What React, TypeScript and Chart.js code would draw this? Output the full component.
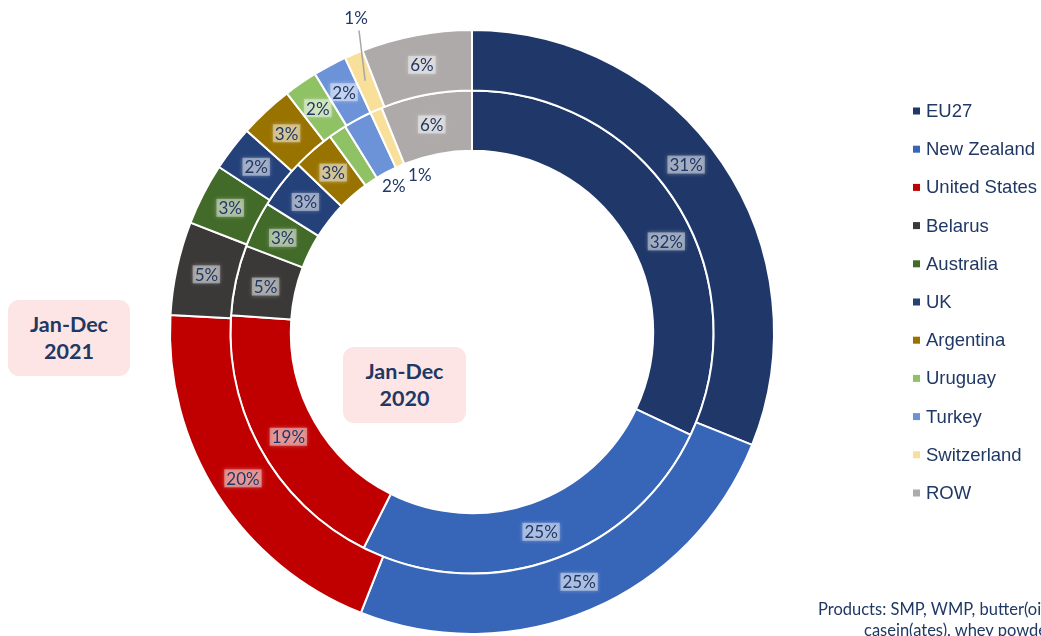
import React, { useEffect, useRef } from "react";
import { Chart, registerables } from "chart.js";
Chart.register(...registerables);

const countries = ["EU27", "New Zealand", "United States", "Belarus", "Australia", "UK", "Argentina", "Uruguay", "Turkey", "Switzerland", "ROW"];
const share2021 = [31.1, 24.9, 19.9, 5.0, 3.3, 2.4, 2.9, 1.8, 1.8, 1.0, 5.9];
const share2020 = [32.0, 25.4, 18.7, 4.7, 3.1, 3.3, 2.8, 1.2, 1.9, 0.8, 6.1];
const sliceColors = ["#1F3869", "#3765B8", "#C00000", "#3B3838", "#426B29", "#24417A", "#997300", "#8FC165", "#6C93D8", "#F8DF9A", "#AEAAAA"];
const periodLabels = ["Jan-Dec 2021", "Jan-Dec 2020"];

const TEXT = "#203864";

// label placement: "in" (boxed, mid-ring), "hole" (inside the hole), "leader" (outside with line), "none"
const labelMode2021 = ["in", "in", "in", "in", "in", "in", "in", "in", "in", "leader", "in"];
const labelMode2020 = ["in", "in", "in", "in", "in", "in", "in", "none", "hole", "hole", "in"];
// small angular nudges (degrees) for label placement
const labelNudge2021 = [-4, 0, 0, 0, 0, 0, 0, 0, 0, 2.5, 0];
const labelNudge2020 = [7.4, 0, 0, 0, 0, 0, 0, 0, 0, 5, 0];

const labelPlugin = {
  id: "sliceLabels",
  afterDatasetsDraw(chart: any) {
    const ctx = chart.ctx;
    const modes = [labelMode2021, labelMode2020];
    const nudges = [labelNudge2021, labelNudge2020];
    ctx.save();
    ctx.font = "17px Lato";
    ctx.textAlign = "center";
    ctx.textBaseline = "middle";
    chart.data.datasets.forEach((ds: any, di: number) => {
      const meta = chart.getDatasetMeta(di);
      meta.data.forEach((arc: any, i: number) => {
        const mode = modes[di][i];
        if (mode === "none") return;
        const p = arc.getProps(["x", "y", "startAngle", "endAngle", "innerRadius", "outerRadius"], true);
        const mid = (p.startAngle + p.endAngle) / 2;
        const a = mid + (nudges[di][i] * Math.PI) / 180;
        const text = Math.round(ds.data[i]) + "%";
        if (mode === "in") {
          const r = (p.innerRadius + p.outerRadius) / 2 + (di === 1 && i === 0 ? 3 : 0);
          const x = p.x + Math.cos(a) * r;
          const y = p.y + Math.sin(a) * r;
          const w = ctx.measureText(text).width;
          ctx.save();
          ctx.fillStyle = "rgba(255,255,255,0.42)";
          ctx.shadowColor = "rgba(255,255,255,0.7)";
          ctx.shadowBlur = 4;
          ctx.fillRect(x - w / 2 - 2, y - 9, w + 4, 18);
          ctx.restore();
          ctx.fillStyle = TEXT;
          ctx.fillText(text, x, y + 1);
        } else if (mode === "hole") {
          const r = p.innerRadius - 16;
          const x = p.x + Math.cos(a) * r;
          const y = p.y + Math.sin(a) * r;
          ctx.fillStyle = TEXT;
          ctx.fillText(text, x, y);
        } else if (mode === "leader") {
          const r1 = p.outerRadius - 29;
          const r2 = p.outerRadius + 20;
          ctx.strokeStyle = "#A6A6A6";
          ctx.lineWidth = 1.5;
          ctx.beginPath();
          ctx.moveTo(p.x + Math.cos(mid) * r1, p.y + Math.sin(mid) * r1);
          ctx.lineTo(p.x + Math.cos(a) * r2, p.y + Math.sin(a) * r2);
          ctx.stroke();
          const r3 = p.outerRadius + 34;
          ctx.fillStyle = TEXT;
          ctx.fillText(text, p.x + Math.cos(a) * r3 + 2, p.y + Math.sin(a) * r3 + 1);
        }
      });
    });
    ctx.restore();
  },
};

const legendPlugin = {
  id: "sideLegend",
  afterDraw(chart: any) {
    const ctx = chart.ctx;
    const labels = chart.data.labels as string[];
    ctx.save();
    ctx.font = "18.5px 'Liberation Sans', Arial";
    ctx.textBaseline = "middle";
    ctx.textAlign = "left";
    labels.forEach((lab, i) => {
      const y = 111 + i * 38.2;
      ctx.fillStyle = sliceColors[i];
      ctx.fillRect(913, y - 3.5, 7, 7);
      ctx.fillStyle = TEXT;
      ctx.fillText(lab, 926, y + 1);
    });
    ctx.restore();
  },
};

export default function App() {
  const ref = useRef<HTMLCanvasElement>(null);
  useEffect(() => {
    if (!ref.current) return;
    const chart = new Chart(ref.current, {
      type: "doughnut",
      data: {
        labels: countries,
        datasets: [
          { label: periodLabels[0], data: share2021, backgroundColor: sliceColors, borderColor: "#FFFFFF", borderWidth: 2 },
          { label: periodLabels[1], data: share2020, backgroundColor: sliceColors, borderColor: "#FFFFFF", borderWidth: 2 },
        ],
      },
      options: {
        responsive: false,
        animation: false,
        cutout: "60%",
        layout: { padding: { left: 169, right: 266, top: 29, bottom: 1 } },
        plugins: { legend: { display: false }, tooltip: { enabled: false } },
      },
      plugins: [labelPlugin, legendPlugin],
    });
    return () => chart.destroy();
  }, []);

  const boxStyle: React.CSSProperties = {
    position: "absolute",
    background: "#FDE5E5",
    borderRadius: 11,
    color: TEXT,
    fontFamily: "Lato",
    fontWeight: 700,
    fontSize: 21.5,
    lineHeight: "27px",
    textAlign: "center",
    display: "flex",
    alignItems: "center",
    justifyContent: "center",
  };

  const footStyle: React.CSSProperties = {
    position: "absolute",
    color: TEXT,
    fontFamily: "Lato",
    fontSize: 16.5,
    lineHeight: "20px",
    whiteSpace: "nowrap",
  };

  return (
    <div style={{ position: "fixed", left: 0, top: 0, width: 1041, height: 636, overflow: "hidden", background: "#FFFFFF" }}>
      <canvas ref={ref} width={1041} height={636} style={{ position: "absolute", left: 0, top: 0 }} />
      <div style={{ ...boxStyle, left: 8, top: 300, width: 122, height: 76 }}>
        Jan-Dec<br />2021
      </div>
      <div style={{ ...boxStyle, left: 343, top: 347, width: 123, height: 76 }}>
        Jan-Dec<br />2020
      </div>
      <div style={{ ...footStyle, left: 818, top: 599 }}>Products: SMP, WMP, butter(oil),</div>
      <div style={{ ...footStyle, left: 864, top: 620 }}>casein(ates), whey powder</div>
    </div>
  );
}
